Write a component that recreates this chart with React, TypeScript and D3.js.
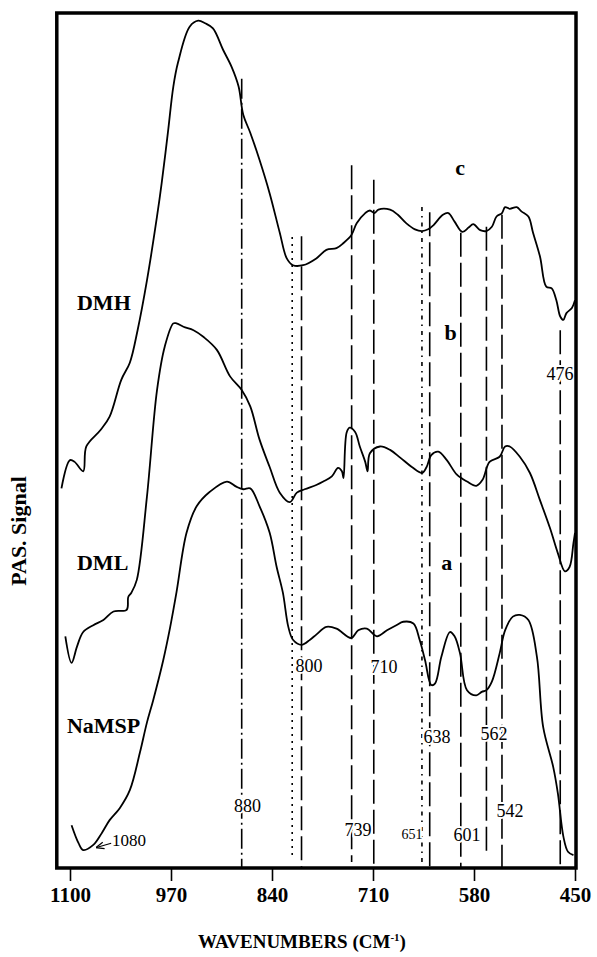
import { useEffect, useRef } from "react";
import * as d3 from "d3";

const WIDTH = 597;
const HEIGHT = 957;

// wavenumber axis ticks (cm-1), reversed axis
const xTicks = [1100, 970, 840, 710, 580, 450];

// PAS signal traces, [wavenumber, signal (a.u.)]
const dmh: [number, number][] = [
  [1111, 44.4], [1100, 47.7], [1094, 47.5], [1083, 46.4], [1079, 49.3], [1061, 51.2], [1049, 52.8],
  [1034, 57.1], [1023, 59.1], [1013, 62.9], [1001, 68.7], [988, 76.2], [982, 80.1], [974, 86.0],
  [967, 91.4], [961, 94.2], [946, 98.4], [935, 99.1], [926, 98.8], [916, 98.2], [903, 95.7],
  [892, 93.7], [883, 91.4], [877, 88.1], [868, 86.0], [856, 82.8], [843, 78.9], [830, 74.3],
  [821, 71.3], [813, 70.5], [800, 70.5], [783, 71.3], [770, 72.3], [757, 72.5], [748, 73.1],
  [738, 74.0], [731, 75.4], [720, 76.6], [714, 76.9], [708, 76.6], [703, 77.0], [688, 77.0],
  [678, 76.4], [667, 75.4], [656, 74.7], [647, 74.5], [639, 74.7], [632, 75.2], [620, 76.4],
  [613, 76.6], [605, 75.6], [595, 74.4], [587, 74.9], [581, 75.3], [572, 74.6], [564, 74.5],
  [557, 75.0], [551, 76.2], [544, 76.6], [540, 77.3], [534, 77.1], [525, 77.3], [519, 76.8],
  [510, 76.2], [504, 74.3], [495, 71.5], [487, 68.0], [480, 67.8], [474, 66.4], [469, 64.5],
  [465, 64.1], [461, 64.9], [454, 65.5], [450, 66.4],
];

const dml: [number, number][] = [
  [1106, 27.1], [1098, 24.0], [1091, 25.9], [1083, 27.6], [1070, 28.4], [1057, 29.0], [1044, 30.0],
  [1027, 30.2], [1025, 31.7], [1021, 32.2], [1014, 33.7], [1001, 43.4], [988, 55.9], [978, 61.0],
  [967, 63.7], [963, 63.7], [954, 63.3], [941, 62.9], [928, 62.1], [911, 60.6], [894, 57.5],
  [879, 55.9], [868, 54.0], [856, 50.1], [843, 46.9], [830, 43.9], [817, 42.8], [808, 43.9],
  [798, 44.3], [783, 44.8], [774, 45.2], [763, 45.8], [755, 46.8], [750, 46.4], [748, 45.6],
  [744, 50.9], [740, 51.5], [733, 51.0], [727, 49.3], [720, 47.5], [717, 46.4], [714, 48.5],
  [701, 49.3], [688, 48.9], [675, 48.0], [660, 46.9], [647, 46.2], [641, 46.9], [635, 48.3],
  [626, 48.7], [615, 47.7], [602, 46.0], [589, 45.2], [577, 44.7], [569, 45.4], [560, 47.5],
  [547, 48.1], [540, 49.3], [534, 49.3], [521, 48.1], [508, 46.2], [495, 43.0], [482, 39.7],
  [472, 36.8], [463, 34.7], [457, 35.2], [452, 38.0], [450, 39.2],
];

const namsp: [number, number][] = [
  [1098, 5.0], [1089, 2.9], [1083, 2.1], [1070, 2.7], [1059, 4.1], [1049, 5.6], [1036, 7.0],
  [1023, 9.1], [1010, 13.5], [1001, 17.0], [993, 19.6], [980, 24.3], [971, 28.2], [963, 32.2],
  [950, 39.2], [937, 42.3], [920, 44.0], [898, 45.2], [886, 44.6], [877, 44.3], [868, 44.4],
  [856, 42.3], [843, 39.2], [834, 35.2], [826, 32.2], [819, 28.2], [813, 26.7], [802, 26.1],
  [791, 26.7], [783, 27.3], [770, 28.2], [757, 28.0], [738, 26.9], [729, 27.8], [718, 28.0],
  [705, 27.1], [692, 27.8], [680, 28.4], [671, 28.8], [658, 28.6], [650, 26.7], [643, 24.3],
  [635, 21.4], [630, 21.6], [622, 24.7], [611, 27.6], [605, 27.1], [598, 25.1], [589, 20.8],
  [577, 20.2], [570, 20.6], [564, 20.8], [557, 21.8], [547, 25.1], [540, 27.8], [530, 29.4],
  [521, 29.6], [510, 29.0], [499, 24.7], [491, 16.5], [478, 11.8], [472, 8.7], [465, 3.7],
  [459, 1.9], [452, 1.5],
];

// vertical band markers: wavenumber, signal range, kind
const bandLines = [
  { wn: 879, top: 92.3, bottom: 0, kind: "dashdot" },
  { wn: 814, top: 73.8, bottom: 1.5, kind: "dot" },
  { wn: 802, top: 73.9, bottom: 0, kind: "dash" },
  { wn: 737.5, top: 82.2, bottom: 0.7, kind: "dash" },
  { wn: 709, top: 80.5, bottom: 0, kind: "dash" },
  { wn: 647, top: 77.3, bottom: 0.4, kind: "dotdash" },
  { wn: 637, top: 76.7, bottom: 0, kind: "dash" },
  { wn: 597, top: 74.3, bottom: 0, kind: "dash" },
  { wn: 564, top: 75.0, bottom: 1.5, kind: "dash" },
  { wn: 544, top: 76.4, bottom: 0, kind: "dash" },
  { wn: 469, top: 62.9, bottom: 0, kind: "dash" },
];

// band labels
const bandLabels = [
  { text: "880", wn: 871.6, s: 6.6 },
  { text: "800", wn: 792.4, s: 22.9 },
  { text: "739", wn: 729.3, s: 3.7 },
  { text: "710", wn: 695.9, s: 22.8 },
  { text: "651", wn: 659.9, s: 3.4, small: true },
  { text: "638", wn: 627.7, s: 14.6 },
  { text: "601", wn: 589, s: 3.2 },
  { text: "562", wn: 554.3, s: 15.0 },
  { text: "542", wn: 533.7, s: 6.0 },
  { text: "476", wn: 469.4, s: 57.1 },
];

const seriesNames = [
  { text: "DMH", wn: 1091, s: 65.3 },
  { text: "DML", wn: 1091, s: 34.9 },
  { text: "NaMSP", wn: 1104, s: 15.8 },
];

const seriesLetters = [
  { text: "c", wn: 598, s: 81.1 },
  { text: "b", wn: 610, s: 61.8 },
  { text: "a", wn: 615, s: 34.9 },
];

const dashes: Record<string, string> = {
  dash: "24,6",
  dot: "2,5",
  dashdot: "20,4,2,4",
  dotdash: "4,5,1.5,5",
};

const SERIF = "'Liberation Serif', 'Times New Roman', serif";

export default function App() {
  const ref = useRef<SVGSVGElement>(null);

  useEffect(() => {
    const svg = d3.select(ref.current);
    svg.selectAll("*").remove();

    const x = d3.scaleLinear().domain([1100, 450]).range([70, 575]);
    const y = d3.scaleLinear().domain([0, 100]).range([868, 13]);

    svg.append("defs").append("marker")
      .attr("id", "arrowhead")
      .attr("viewBox", "0 0 10 10")
      .attr("refX", 9).attr("refY", 5)
      .attr("markerWidth", 7).attr("markerHeight", 7)
      .attr("orient", "auto")
      .append("path")
      .attr("d", "M0,1 L10,5 L0,9")
      .attr("fill", "none")
      .attr("stroke", "#000")
      .attr("stroke-width", 1.5);

    // band marker lines
    svg.append("g").selectAll("line")
      .data(bandLines)
      .join("line")
      .attr("x1", d => x(d.wn)).attr("x2", d => x(d.wn))
      .attr("y1", d => y(d.top)).attr("y2", d => y(d.bottom))
      .attr("stroke", "#000")
      .attr("stroke-width", 1.6)
      .attr("stroke-dasharray", d => dashes[d.kind]);

    // spectra
    const line = d3.line<[number, number]>()
      .x(d => x(d[0]))
      .y(d => y(d[1]))
      .curve(d3.curveCatmullRom.alpha(0.5));

    svg.append("g").selectAll("path")
      .data([dmh, dml, namsp])
      .join("path")
      .attr("d", d => line(d))
      .attr("fill", "none")
      .attr("stroke", "#000")
      .attr("stroke-width", 1.8);

    // band labels with white halo to break the lines
    svg.append("g").selectAll("text")
      .data(bandLabels)
      .join("text")
      .attr("x", d => x(d.wn))
      .attr("y", d => y(d.s))
      .attr("text-anchor", "middle")
      .attr("font-family", SERIF)
      .attr("font-size", d => (d.small ? 14 : 18))
      .attr("stroke", "#fff")
      .attr("stroke-width", 4)
      .attr("paint-order", "stroke")
      .attr("fill", "#000")
      .text(d => d.text);

    // 1080 label + arrow
    svg.append("text")
      .attr("x", x(1046)).attr("y", y(2.6))
      .attr("font-family", SERIF)
      .attr("font-size", 17)
      .text("1080");
    svg.append("line")
      .attr("x1", x(1047)).attr("y1", y(2.9))
      .attr("x2", x(1066)).attr("y2", y(2.4))
      .attr("stroke", "#000")
      .attr("stroke-width", 1.2)
      .attr("marker-end", "url(#arrowhead)");

    // series names
    svg.append("g").selectAll("text")
      .data(seriesNames)
      .join("text")
      .attr("x", d => x(d.wn))
      .attr("y", d => y(d.s))
      .attr("font-family", SERIF)
      .attr("font-weight", "bold")
      .attr("font-size", 22)
      .text(d => d.text);

    svg.append("g").selectAll("text")
      .data(seriesLetters)
      .join("text")
      .attr("x", d => x(d.wn))
      .attr("y", d => y(d.s))
      .attr("text-anchor", "middle")
      .attr("font-family", SERIF)
      .attr("font-weight", "bold")
      .attr("font-size", 22)
      .text(d => d.text);

    // frame
    svg.append("rect")
      .attr("x", x(1117))
      .attr("y", y(100))
      .attr("width", x(450) - x(1117) + 1)
      .attr("height", y(0) - y(100))
      .attr("fill", "none")
      .attr("stroke", "#000")
      .attr("stroke-width", 3.5);

    // x axis
    const xAxis = d3.axisBottom(x)
      .tickValues(xTicks)
      .tickSize(13)
      .tickPadding(6)
      .tickFormat(d3.format("d"));

    const gx = svg.append("g")
      .attr("transform", `translate(0,${y(0)})`)
      .call(xAxis);
    gx.select(".domain").remove();
    gx.selectAll(".tick line").attr("stroke", "#000").attr("stroke-width", 1.6);
    gx.selectAll(".tick text")
      .attr("font-family", SERIF)
      .attr("font-weight", "bold")
      .attr("font-size", 21)
      .attr("fill", "#000");

    // axis titles
    const xt = svg.append("text")
      .attr("x", 302)
      .attr("y", 948)
      .attr("text-anchor", "middle")
      .attr("font-family", SERIF)
      .attr("font-weight", "bold")
      .attr("font-size", 19);
    xt.append("tspan").text("WAVENUMBERS (CM");
    xt.append("tspan").attr("dy", -7).attr("font-size", 11).text("-1");
    xt.append("tspan").attr("dy", 7).text(")");

    svg.append("text")
      .attr("transform", "translate(26,531) rotate(-90)")
      .attr("text-anchor", "middle")
      .attr("font-family", SERIF)
      .attr("font-weight", "bold")
      .attr("font-size", 22)
      .text("PAS. Signal");
  }, []);

  return (
    <svg
      ref={ref}
      width={WIDTH}
      height={HEIGHT}
      style={{ position: "absolute", left: 0, top: 0, background: "#fff" }}
    />
  );
}
